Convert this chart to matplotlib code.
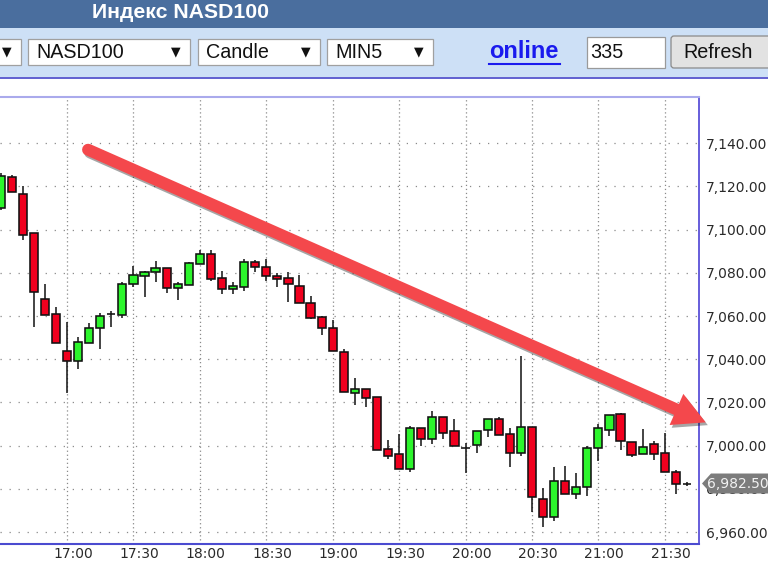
import matplotlib
matplotlib.use('Agg')
import matplotlib.pyplot as plt
from matplotlib.patches import Rectangle, Polygon, FancyBboxPatch
from matplotlib.transforms import ScaledTranslation
import matplotlib.patheffects as pe
import numpy as np

plt.rcParams['lines.scale_dashes'] = False
plt.rcParams['font.family'] = ['DejaVu Sans']

# ---------------- data (5-minute candles, NASD100) ----------------
times = ['16:30', '16:35', '16:40', '16:45', '16:50', '16:55',
         '17:00', '17:05', '17:10', '17:15', '17:20', '17:25',
         '17:30', '17:35', '17:40', '17:45', '17:50', '17:55',
         '18:00', '18:05', '18:10', '18:15', '18:20', '18:25',
         '18:30', '18:35', '18:40', '18:45', '18:50', '18:55',
         '19:00', '19:05', '19:10', '19:15', '19:20', '19:25',
         '19:30', '19:35', '19:40', '19:45', '19:50', '19:55',
         '20:00', '20:05', '20:10', '20:15', '20:20', '20:25',
         '20:30', '20:35', '20:40', '20:45', '20:50', '20:55',
         '21:00', '21:05', '21:10', '21:15', '21:20', '21:25',
         '21:30', '21:35', '21:40']
opens = [7110.0, 7124.5, 7116.5, 7098.3, 7067.8, 7060.8,
         7044.0, 7039.2, 7047.4, 7054.4, 7060.8, 7060.5,
         7074.7, 7078.7, 7080.6, 7082.4, 7073.1, 7074.4,
         7084.1, 7088.6, 7077.5, 7072.5, 7073.6, 7084.9,
         7082.9, 7078.7, 7077.5, 7073.9, 7066.2, 7059.4,
         7054.4, 7043.5, 7024.5, 7026.1, 7022.7, 6998.3,
         6996.2, 6989.1, 7008.1, 7003.0, 7013.4, 7006.8,
         6999.1, 7000.3, 7007.3, 7012.2, 7005.3, 6996.8,
         7008.5, 6975.2, 6967.1, 6983.8, 6977.5, 6980.7,
         6998.8, 7007.3, 7014.5, 7001.9, 6996.0, 7000.6,
         6996.5, 6988.0, 6982.5]
highs = [7126.0, 7125.5, 7120.0, 7098.3, 7074.9, 7064.4,
         7057.4, 7050.5, 7056.7, 7061.6, 7062.4, 7075.6,
         7083.2, 7080.9, 7085.5, 7082.4, 7075.6, 7085.2,
         7090.6, 7090.7, 7080.9, 7075.9, 7086.4, 7086.0,
         7086.4, 7079.8, 7080.3, 7079.0, 7069.3, 7060.2,
         7058.2, 7044.8, 7031.2, 7026.1, 7022.7, 7002.6,
         7005.4, 7009.3, 7008.1, 7016.1, 7013.4, 7012.4,
         7001.4, 7006.8, 7012.2, 7013.4, 7008.1, 7041.5,
         7008.5, 6980.3, 6990.0, 6990.7, 6987.2, 6999.9,
         7010.0, 7014.2, 7015.0, 7001.9, 7007.6, 7002.3,
         7005.8, 6988.8, 6983.3]
lows = [7109.0, 7117.5, 7095.2, 7055.1, 7060.5, 7047.4,
        7024.3, 7035.5, 7047.4, 7044.6, 7054.8, 7059.0,
        7073.6, 7068.7, 7075.6, 7070.8, 7067.5, 7074.4,
        7084.1, 7076.3, 7070.1, 7070.1, 7071.6, 7080.6,
        7076.3, 7073.6, 7066.7, 7066.2, 7058.5, 7051.3,
        7043.8, 7025.0, 7018.8, 7018.1, 6998.0, 6993.8,
        6989.1, 6988.0, 6999.9, 7000.8, 7003.0, 6999.9,
        6987.2, 6996.8, 7004.2, 7005.0, 6990.3, 6995.2,
        6969.4, 6962.5, 6965.3, 6977.5, 6975.2, 6976.6,
        6993.0, 7004.5, 6998.0, 6994.6, 6996.0, 6993.5,
        6988.0, 6977.5, 6981.3]
closes = [7125.0, 7117.5, 7097.5, 7071.3, 7060.5, 7047.4,
          7039.2, 7048.1, 7054.4, 7060.0, 7060.8, 7074.9,
          7079.0, 7080.3, 7082.4, 7073.1, 7074.7, 7084.4,
          7088.6, 7077.2, 7072.5, 7073.9, 7085.2, 7082.9,
          7078.7, 7077.3, 7074.7, 7066.2, 7059.3, 7054.4,
          7043.8, 7025.0, 7026.1, 7022.2, 6998.0, 6995.2,
          6989.1, 7008.1, 7003.0, 7013.4, 7006.0, 6999.9,
          6999.1, 7006.8, 7012.2, 7005.0, 6996.8, 7008.8,
          6976.1, 6967.1, 6983.7, 6977.5, 6980.7, 6998.8,
          7008.1, 7014.2, 7002.3, 6995.7, 6999.5, 6996.2,
          6988.0, 6982.3, 6982.5]
price_ticks = [6960, 6980, 7000, 7020, 7040, 7060, 7080, 7100, 7120, 7140]
time_ticks = ['17:00', '17:30', '18:00', '18:30', '19:00',
              '19:30', '20:00', '20:30', '21:00', '21:30']
last_price = 6982.50
title = 'Индекс NASD100'
# trend arrow (candle index, price)
arrow_from = (7.9, 7137.0)
arrow_to = (63.7, 7010.8)

# ---------------- figure ----------------
W, H = 768, 564
fig = plt.figure(figsize=(W / 100, H / 100), dpi=100)
fig.patch.set_facecolor('white')

ax = fig.add_axes([0, 1 - 544 / H, 699 / W, (544 - 97) / H])
ax.set_facecolor('white')
idx = np.arange(len(times))
o = np.array(opens); c = np.array(closes)
hi = np.array(highs); lo = np.array(lows)

GREEN, RED = '#2cf52c', '#f0001e'
cols = [GREEN if cc > oo else (RED if cc < oo else '#111111') for oo, cc in zip(o, c)]

ax.vlines(idx, lo, hi, color='#111111', lw=1.1, zorder=3)
ax.bar(idx, np.abs(c - o), bottom=np.minimum(o, c), width=0.74, color=cols,
       edgecolor='#111111', linewidth=1.15, zorder=4)

ax.set_xlim(-0.054, 63.09)
ax.set_ylim(6954.5, 7161.4)

# grid
for v in price_ticks:
    ax.axhline(v, color='#8a8a8a', lw=0.9, ls=(0, (0.9, 5.6)), zorder=1)
tick_pos = [times.index(t) for t in time_ticks]
for p in tick_pos:
    ax.axvline(p, color='#8a8a8a', lw=0.9, ls=(0, (0.9, 2.0)), zorder=1)

ax.set_xticks(tick_pos)
ax.set_xticklabels(time_ticks)
ax.set_yticks(price_ticks)
ax.set_yticklabels([f'{v:,.2f}' for v in price_ticks])
ax.yaxis.tick_right()
ax.tick_params(axis='x', length=0, pad=2.5, labelsize=10, labelcolor='#2a2a2a')
ax.tick_params(axis='y', length=0, pad=4.8, labelsize=10, labelcolor='#2a2a2a')
for lab in ax.get_xticklabels():
    lab.set_transform(lab.get_transform() + ScaledTranslation(6 / 100, 0, fig.dpi_scale_trans))

ax.spines['left'].set_visible(False)
ax.spines['top'].set_color('#aaaaec'); ax.spines['top'].set_linewidth(1.5)
ax.spines['right'].set_color('#5b50d8'); ax.spines['right'].set_linewidth(1.3)
ax.spines['bottom'].set_color('#4b4bd0'); ax.spines['bottom'].set_linewidth(1.5)

# ---------------- overlay (UI + annotations) in pixel coords ----------------
ov = fig.add_axes([0, 0, 1, 1], zorder=10)
ov.set_xlim(0, W); ov.set_ylim(H, 0)
ov.axis('off')
ov.patch.set_alpha(0)

LS = ['Liberation Sans', 'DejaVu Sans']
ov.add_patch(Rectangle((0, 0), W, 28, color='#4a6e9e', lw=0))
ov.text(181, 13, title, ha='center', va='center', color='white',
        fontsize=15.3, fontweight='bold', family=LS)
ov.add_patch(Rectangle((0, 28), W, 49, color='#cde0f6', lw=0))
ov.plot([0, W], [77.5, 77.5], color='#4646c8', lw=1.2)

for (x0, w, txt) in [(-6, 27, ''), (28, 162, 'NASD100'), (198, 122, 'Candle'), (327, 106, 'MIN5')]:
    ov.add_patch(Rectangle((x0, 39), w, 26, facecolor='white', edgecolor='#a0a0a0', lw=0.9))
    if txt:
        ov.text(x0 + 8, 52.5, txt, ha='left', va='center', fontsize=14.2, color='#111', family=LS)
    ov.text(x0 + w - 14, 52, '▼', ha='center', va='center', fontsize=9, color='#111',
            family=['DejaVu Sans'])

ov.text(489, 52, 'online', ha='left', va='center', fontsize=17, fontweight='bold',
        color='#1a1aee', family=LS)
ov.plot([489, 560], [63.5, 63.5], color='#1a1aee', lw=1.5)

ov.add_patch(Rectangle((587, 37), 78, 31, facecolor='white', edgecolor='#9a9a9a', lw=0.9))
ov.text(590, 52.5, '335', ha='left', va='center', fontsize=14.2, color='#111', family=LS)
ov.add_patch(FancyBboxPatch((671, 36), 104, 32, boxstyle='round,pad=0,rounding_size=3',
                            facecolor='#e2e2e2', edgecolor='#8a8a8a', lw=0.9))
ov.text(718, 52.5, 'Refresh', ha='center', va='center', fontsize=14.2, color='#111', family=LS)

# last price tag
to_px = lambda xy: ov.transData.inverted().transform(ax.transData.transform(xy))
tag_y = to_px((0, last_price))[1]
ov.add_patch(Polygon([(702, tag_y), (711, tag_y - 10), (W + 2, tag_y - 10),
                      (W + 2, tag_y + 10), (711, tag_y + 10)],
                     closed=True, facecolor='#7c7c7c', edgecolor='none'))
ov.text(706.5, tag_y, f'{last_price:,.2f}', ha='left', va='center', fontsize=10,
        color='#f2f2f2')

# trend arrow
p0 = to_px(arrow_from); p1 = to_px(arrow_to)
d = (p1 - p0) / np.hypot(*(p1 - p0))
nrm = np.array([-d[1], d[0]])
head_len, head_hw = 32, 17
base = p1 - head_len * d
ARROW = '#f4484c'
shadow = [pe.SimpleLineShadow(offset=(1.5, -2), shadow_color='#000000', alpha=0.35), pe.Normal()]
ov.plot([p0[0], base[0] + 3 * d[0]], [p0[1], base[1] + 3 * d[1]], color=ARROW, lw=8.6,
        solid_capstyle='round', path_effects=shadow, zorder=5)
ov.add_patch(Polygon([p1, base + head_hw * nrm, base - head_hw * nrm], closed=True,
                     facecolor=ARROW, edgecolor='none', zorder=5,
                     path_effects=[pe.SimplePatchShadow(offset=(1.5, -2), shadow_rgbFace='#000000', alpha=0.35), pe.Normal()]))

fig.savefig('out.png', dpi=100, facecolor='white')
